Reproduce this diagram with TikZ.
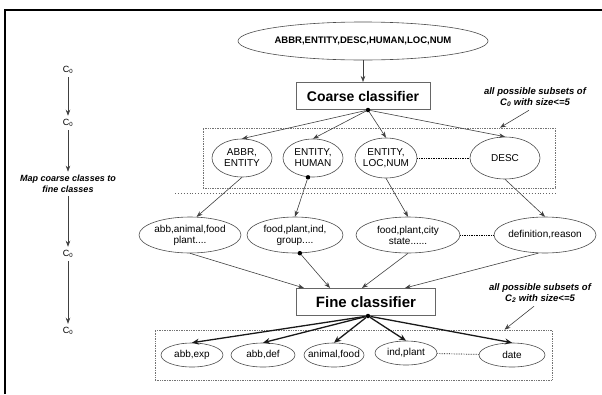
\documentclass[tikz,border=0pt]{standalone}
\usepackage{fontspec}
\setmainfont{Liberation Sans}
\usetikzlibrary{arrows.meta,shapes.geometric,calc}

\tikzset{
  lbl/.style={ellipse, draw=black!70, line width=0.6pt, inner sep=0pt, align=center,
    font=\fontsize{10}{11}\selectfont},
  clsbox/.style={draw=black!60, line width=1pt, minimum height=27pt, inner sep=0pt},
  grp/.style={draw=black!55, densely dotted, line width=0.7pt, inner sep=0pt},
  arr/.style={draw=black!75, line width=0.6pt, -{Stealth[length=6pt,width=4.5pt]}},
  thickarr/.style={draw=black!90, line width=1.3pt, -{Stealth[length=7pt,width=6pt]}},
  note/.style={align=center, font=\bfseries\itshape\fontsize{9.5}{11}\selectfont},
  side/.style={font=\fontsize{9}{10}\selectfont},
  pt/.style={circle, fill=black, inner sep=0pt, minimum size=4.5pt}
}

\begin{document}
\begin{tikzpicture}[x=1pt,y=-1pt]
    \useasboundingbox (0,0) rectangle (602,394);
    %keret: csak a bal es a felso el
    \draw[line width=1.3pt] (5,394) -- (5,10) -- (602,10);

    %bal oldali oszlop
    \node[side] (l1) at (68,70) {C\textsubscript{0}};
    \node[side] (l2) at (68,123) {C\textsubscript{0}};
    \node[note, font=\bfseries\itshape\fontsize{9}{11}\selectfont] (map) at (68,184) {Map coarse classes to\\fine classes};
    \node[side] (l3) at (68,254) {C\textsubscript{0}};
    \node[side] (l4) at (68,331) {C\textsubscript{0}};
    \draw[arr] (l1) -- (l2);
    \draw[arr] (l2) -- (map);
    \draw[arr] (map) -- (l3);
    \draw[arr] (l3) -- (l4);

    %durva osztalyozo
    \node[lbl, minimum width=230pt, minimum height=38pt, font=\bfseries\fontsize{9.5}{11}\selectfont] (top) at (363,41) {ABBR,ENTITY,DESC,HUMAN,LOC,NUM};
    \node[clsbox, minimum width=134pt, font=\bfseries\fontsize{14}{16}\selectfont] (coarse) at (363,96) {Coarse classifier};
    \draw[arr] (top) -- (coarse);
    \node[pt] (cdot) at (368,110) {};

    %elso reszhalmazok
    \node[grp, minimum width=352pt, minimum height=60pt] (grp1) at (379,158) {};
    \node[lbl, minimum width=60pt, minimum height=38pt] (a1) at (242,158) {ABBR,\\ENTITY};
    \node[lbl, minimum width=60pt, minimum height=38pt] (a2) at (313,158) {ENTITY,\\HUMAN};
    \node[lbl, minimum width=62pt, minimum height=40pt, inner xsep=-4pt] (a3) at (386,158) {ENTITY,\\LOC,NUM};
    \node[lbl, minimum width=70pt, minimum height=42pt] (a4) at (505,158) {DESC};
    \draw[densely dotted, line width=0.7pt] (a3) -- (a4);
    \foreach \i in {1,...,4}
        \draw[arr] (cdot) -- (a\i.north);
    \node[note] (n1) at (535,97) {all possible subsets of\\C\textsubscript{0} with size<=5};
    \draw[arr] ([xshift=-6pt]n1.south) -- ([xshift=121pt]grp1.north);

    \draw[dotted, draw=black!60, line width=0.9pt] (175,193) -- (557,193);

    %finom osztalyok
    \node[lbl, minimum width=102pt, minimum height=36pt] (b1) at (190,235) {abb,animal,food\\plant....};
    \node[lbl, minimum width=96pt, minimum height=36pt] (b2) at (295,235) {food,plant,ind,\\group....};
    \node[lbl, minimum width=104pt, minimum height=36pt] (b3) at (408,235) {food,plant,city\\state......};
    \node[lbl, minimum width=102pt, minimum height=36pt, inner xsep=-4pt] (b4) at (545,235) {definition,reason};
    \draw[densely dotted, line width=0.7pt] (b3) -- (b4);
    \node[pt] (hdot) at ([xshift=-5pt]a2.south) {};
    \draw[arr] (a1.south) -- (b1.70);
    \draw[arr] (hdot) -- (b2.north);
    \draw[arr] (a3.south) -- (b3.north);
    \draw[arr] (a4.south) -- (b4.north);

    %finom osztalyozo
    \node[clsbox, minimum width=139pt, font=\bfseries\fontsize{15}{17}\selectfont] (fine) at (366,302) {Fine classifier};
    \node[pt] (gdot) at (b2.-75) {};
    \draw[arr] (b1.south) -- ([xshift=-62pt]fine.north);
    \draw[arr] (gdot) -- ([xshift=-36pt]fine.north);
    \draw[arr] (b3.south) -- ([xshift=-4pt]fine.north);
    \draw[arr] (b4.-110) -- ([xshift=39pt]fine.north);
    \node[pt] (fdot) at (368,316) {};

    %masodik reszhalmazok
    \node[grp, minimum width=397pt, minimum height=50pt] (grp2) at (353.5,355) {};
    \node[lbl, minimum width=62pt, minimum height=24pt, inner xsep=-5pt] (s1) at (192,355) {abb,exp};
    \node[lbl, minimum width=64pt, minimum height=24pt, inner xsep=-5pt] (s2) at (263,355) {abb,def};
    \node[lbl, minimum width=60pt, minimum height=24pt, inner xsep=-7pt] (s3) at (334,355) {animal,food};
    \node[lbl, minimum width=62pt, minimum height=24pt, inner xsep=-5pt] (s4) at (406,353) {ind,plant};
    \node[lbl, minimum width=66pt, minimum height=24pt] (s5) at (512,355) {date};
    \draw[densely dotted, line width=0.7pt] (s4) -- (s5);
    \foreach \i in {1,...,5}
        \draw[thickarr] (fdot) -- (s\i.north);
    \node[note] (n2) at (540,293) {all possible subsets of\\C\textsubscript{2} with size<=5};
    \draw[arr] ([xshift=-6pt]n2.south) -- ([xshift=151pt]grp2.north);
\end{tikzpicture}
\end{document}
